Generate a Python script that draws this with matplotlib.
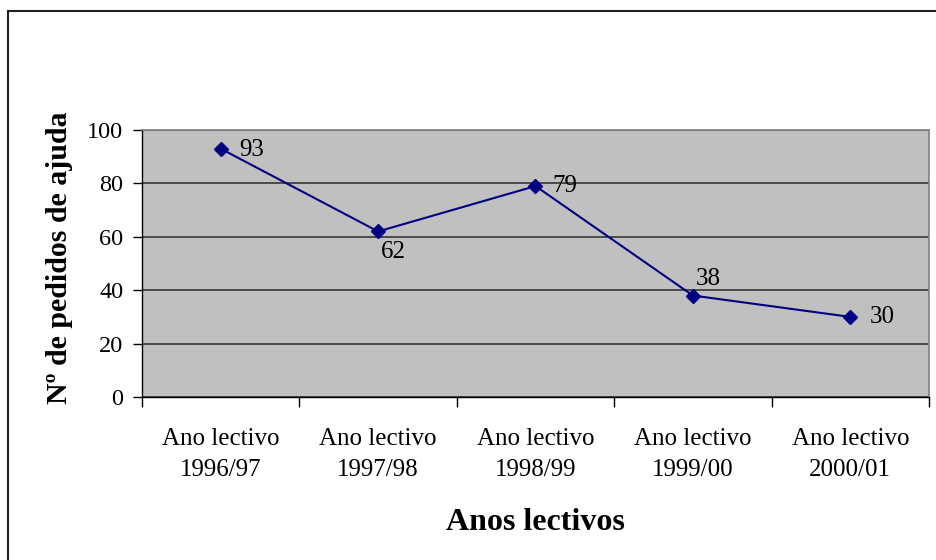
import matplotlib
matplotlib.use('Agg')
import matplotlib.pyplot as plt
from matplotlib.patches import Rectangle

# school years and number of help requests
anos = ['Ano lectivo\n1996/97', 'Ano lectivo\n1997/98', 'Ano lectivo\n1998/99',
        'Ano lectivo\n1999/00', 'Ano lectivo\n2000/01']
pedidos = [93, 62, 79, 38, 30]
y_ticks = [0, 20, 40, 60, 80, 100]

# where each value label sits relative to its point (pixels) and its alignment
label_pos = [(19, -1, 'left', 'center'), (15, -10, 'center', 'top'),
             (17, 0, 'left', 'center'), (15, 6, 'center', 'bottom'),
             (19, 0, 'left', 'center')]

plt.rcParams['font.family'] = ['Liberation Serif', 'DejaVu Serif']

fig = plt.figure(figsize=(9.37, 5.6), dpi=100)
ax = fig.add_axes([142/937, 1 - 397/560, (929 - 142)/937, (397 - 130)/560])
ax.set_facecolor('#c0c0c0')

x = list(range(len(pedidos)))
ax.plot(x, pedidos, color='#000080', lw=1.5, marker='D', ms=7.5, zorder=3)

for xi, v, (dx, dy, ha, va) in zip(x, pedidos, label_pos):
    ax.annotate(str(v), (xi, v), xytext=(dx, dy), textcoords='offset pixels',
                ha=ha, va=va, fontsize=18, zorder=4)

ax.set_xlim(-0.5, len(pedidos) - 0.5)
ax.set_ylim(0, 100)
ax.set_yticks(y_ticks)
ax.yaxis.grid(True, color='#2a2a2a', lw=1.1)
ax.set_axisbelow(True)
ax.tick_params(axis='y', length=6.5, width=1, labelsize=17.5, pad=7)

ax.set_xticks(x)
ax.set_xticklabels(anos, multialignment='center', linespacing=1.55)
ax.set_xticks([i - 0.5 for i in range(len(pedidos) + 1)], minor=True)
ax.tick_params(axis='x', which='major', length=0, labelsize=18, pad=22)
ax.tick_params(axis='x', which='minor', length=7, width=1)

for side in ['top', 'right']:
    ax.spines[side].set_color('#808080')
    ax.spines[side].set_linewidth(1.2)
for side in ['left', 'bottom']:
    ax.spines[side].set_color('black')
    ax.spines[side].set_linewidth(1)

ax.set_xlabel('Anos lectivos', fontsize=23, fontweight='bold')
ax.xaxis.set_label_coords(0.5, -0.417)
ax.set_ylabel('Nº de pedidos de ajuda', fontsize=21.5, fontweight='bold')
ax.yaxis.set_label_coords(-0.088, 0.522)

# outer frame of the chart
fig.patches.append(Rectangle((8/937, -0.1), 1.2, 1.1 - 11/560, transform=fig.transFigure,
                             fill=False, edgecolor='#202020', lw=1.5))

fig.savefig('out.png', dpi=100)
